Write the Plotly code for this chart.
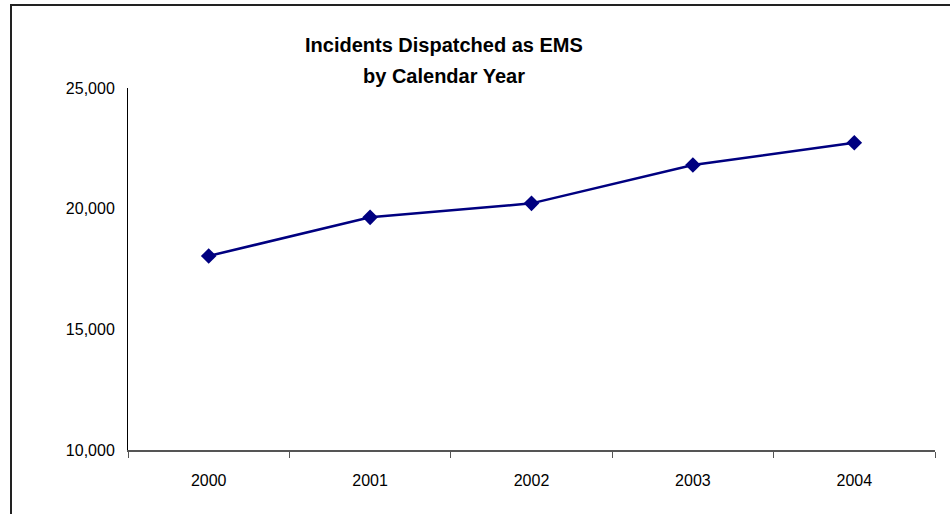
import plotly.graph_objects as go

years = ["2000", "2001", "2002", "2003", "2004"]
incidents = [18040, 19640, 20220, 21810, 22730]
title_lines = ["Incidents Dispatched as EMS", "by Calendar Year"]

W, H = 950, 514
L, R, T, B = 128, 15, 88, 64
pw, ph = W - L - R, H - T - B

def px_x(x):
    return (x - L) / pw

def px_y(y):
    return (H - B - y) / ph

fig = go.Figure()
fig.add_trace(go.Scatter(
    x=years, y=incidents, mode="lines+markers",
    line=dict(color="#000080", width=2.5),
    marker=dict(symbol="diamond", size=12, color="#000080"),
    showlegend=False, hoverinfo="x+y",
))

fig.update_layout(
    width=W, height=H,
    margin=dict(l=L, r=R, t=T, b=B, pad=0),
    paper_bgcolor="white", plot_bgcolor="white",
    font=dict(family="Liberation Sans, Arial, sans-serif", size=16, color="black"),
    xaxis=dict(
        type="category", range=[-0.5, len(years) - 0.5],
        tickson="boundaries", ticks="outside", ticklen=6,
        tickcolor="#555555", tickwidth=1,
        showline=True, linecolor="#555555", linewidth=1.5,
        showgrid=False, zeroline=False, ticklabelstandoff=15,
        tickfont=dict(size=16), fixedrange=True,
    ),
    yaxis=dict(
        range=[10000, 25000], dtick=5000, tickformat=",",
        ticks="", showline=True, linecolor="black", linewidth=1,
        showgrid=False, zeroline=False, ticklabelstandoff=9,
        tickfont=dict(size=16), fixedrange=True,
    ),
    shapes=[dict(
        type="rect", xref="paper", yref="paper",
        x0=px_x(11), x1=px_x(970), y0=px_y(5), y1=px_y(540),
        line=dict(color="#222222", width=2), fillcolor="rgba(0,0,0,0)",
    )],
    annotations=[
        dict(text="<b>%s</b>" % title_lines[0], xref="paper", yref="paper",
             x=px_x(444), y=px_y(45), xanchor="center", yanchor="middle",
             showarrow=False, font=dict(size=20)),
        dict(text="<b>%s</b>" % title_lines[1], xref="paper", yref="paper",
             x=px_x(444), y=px_y(76), xanchor="center", yanchor="middle",
             showarrow=False, font=dict(size=20)),
    ],
)

fig.write_html("out.html", config={"displayModeBar": False},
               post_script="document.body.style.margin='0';document.body.style.padding='0';")
